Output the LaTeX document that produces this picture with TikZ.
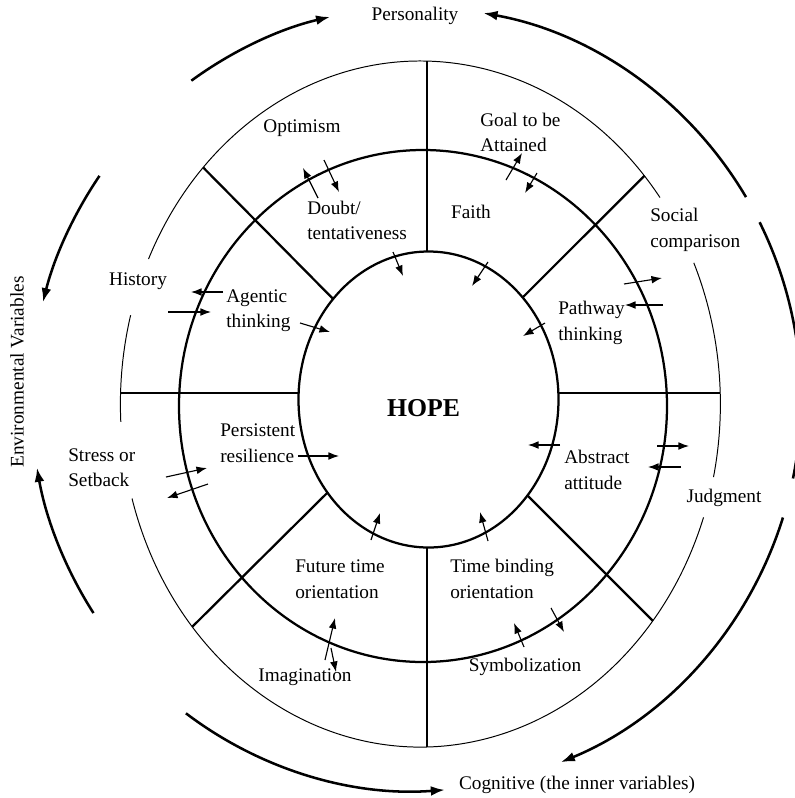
\documentclass[tikz,border=0pt]{standalone}
\usepackage{fontspec}
\setmainfont{Liberation Serif}
\usetikzlibrary{arrows.meta,calc}
\begin{document}
\begin{tikzpicture}[x=0.025cm,y=0.025cm,
  thickline/.style={line width=1.6pt},
  thinline/.style={line width=0.7pt},
  spoke/.style={line width=1.6pt},
  bigline/.style={line width=1.8pt},
  bigarrow/.style={line width=1.8pt,-{Latex[length=10pt,width=7pt]}},
  smallarrow/.style={line width=0.8pt,-{Latex[length=7.5pt,width=5.5pt]}},
  lbl/.style={font=\fontsize{13.7}{18.1}\selectfont, inner sep=0pt},
  lbll/.style={lbl, align=left, anchor=west},
]
\useasboundingbox (0,-798) rectangle (795,0);
\coordinate (Ci) at (428.5,-399.5);
\coordinate (Cm) at (423,-406);
\coordinate (Co) at (420.4,-404);
\coordinate (Ct) at (416,-399);

% rings
\draw[thickline] (Ci) ellipse [x radius=130, y radius=148];
\draw[thickline] (Cm) ellipse [x radius=244, y radius=256];
\draw[thinline] ($(Co)+(37:300 and 343)$) arc[start angle=37, end angle=155, x radius=300, y radius=343];
\draw[thinline] ($(Co)+(165:300 and 343)$) arc[start angle=165, end angle=183, x radius=300, y radius=343];
\draw[thinline] ($(Co)+(196:300 and 343)$) arc[start angle=196, end angle=340.7, x radius=300, y radius=343];
\draw[thinline] ($(Co)+(-12.3:300 and 343)$) arc[start angle=-12.3, end angle=24.3, x radius=300, y radius=343];

% spokes
\draw[spoke] (427,-61) -- (427,-252);
\draw[spoke] (427,-547) -- (427,-747);
\draw[spoke] (120.6,-393) -- (298.6,-393);
\draw[spoke] (558.4,-393) -- (720.2,-393);
\draw[spoke] ($(Co)+(136.4:300 and 343)$) -- ($(Ci)+(137.2:130 and 148)$);
\draw[spoke] ($(Co)+(41.7:300 and 343)$) -- ($(Ci)+(43.6:130 and 148)$);
\draw[spoke] ($(Co)+(220.5:300 and 343)$) -- ($(Ci)+(219:130 and 148)$);
\draw[spoke] ($(Co)+(-39.2:300 and 343)$) -- ($(Ci)+(-40.4:130 and 148)$);

% outer big arrows
\draw[bigarrow] ($(Ct)+(125.7:385 and 392)$) arc[start angle=125.7, end angle=102.9, x radius=385, y radius=392];
\draw[bigarrow] ($(Ct)+(31:385 and 392)$) arc[start angle=31, end angle=79.9, x radius=385, y radius=392];
\draw[bigline] ($(Ct)+(26.8:385 and 392)$) arc[start angle=26.8, end angle=-11.7, x radius=385, y radius=392];
\draw[bigarrow] ($(Ct)+(-17.6:385 and 392)$) arc[start angle=-17.6, end angle=-67.9, x radius=385, y radius=392];
\draw[bigarrow] ($(Ct)+(233.3:385 and 392)$) arc[start angle=233.3, end angle=274.3, x radius=385, y radius=392];
\draw[bigarrow] ($(Ct)+(213.1:385 and 392)$) arc[start angle=213.1, end angle=190.1, x radius=385, y radius=392];
\draw[bigarrow] ($(Ct)+(145.3:385 and 392)$) arc[start angle=145.3, end angle=165.7, x radius=385, y radius=392];

% labels
\node[lbl] (personality) at (415,-16) {Personality};
\node[lbl] (cognitive) at (577,-785) {Cognitive (the inner variables)};
\node[lbl, rotate=90] (env) at (17,-372) {Environmental Variables};
\node[lbl] (optimism) at (302,-128) {Optimism};
\node[lbll] (doubt) at (307,-220.5) {Doubt/\\tentativeness};
\node[lbl] (history) at (138,-281) {History};
\node[lbll] (agentic) at (226,-310.5) {Agentic\\thinking};
\node[lbll] (goal) at (480,-132.5) {Goal to be\\Attained};
\node[lbl] (faith) at (471,-212) {Faith};
\node[lbll] (social) at (650,-230) {Social\\comparison};
\node[lbll] (pathway) at (558,-323) {Pathway\\thinking};
\node[lbll] (stress) at (68,-467.5) {Stress or\\Setback};
\node[lbll] (persistent) at (220,-443) {Persistent\\resilience};
\node[lbl, font=\fontsize{18.3}{20}\selectfont\bfseries] (hope) at (423.5,-408.5) {HOPE};
\node[lbll] (future) at (295,-579) {Future time\\orientation};
\node[lbl] (imagination) at (305,-677) {Imagination};
\node[lbll] (abstract) at (564,-470) {Abstract\\attitude};
\node[lbl] (judgment) at (724,-498) {Judgment};
\node[lbll] (timebinding) at (450,-579) {Time binding\\orientation};
\node[lbl] (symbolization) at (525,-667) {Symbolization};

% small arrow end points
\coordinate (a1s) at (318,-198); \coordinate (a1e) at (303,-168);
\coordinate (a2s) at (324,-160); \coordinate (a2e) at (339,-192);
\coordinate (a3s) at (393,-252); \coordinate (a3e) at (403,-276);
\coordinate (a4s) at (223,-292); \coordinate (a4e) at (191,-292);
\coordinate (a5s) at (168,-312); \coordinate (a5e) at (211,-312);
\coordinate (a6s) at (300,-323); \coordinate (a6e) at (330,-332);
\coordinate (a7s) at (506,-180); \coordinate (a7e) at (522,-153);
\coordinate (a8s) at (537,-173); \coordinate (a8e) at (525,-193);
\coordinate (a9s) at (488,-262); \coordinate (a9e) at (472,-286);
\coordinate (a10s) at (624,-284); \coordinate (a10e) at (662,-278);
\coordinate (a11s) at (663,-305); \coordinate (a11e) at (625,-305);
\coordinate (a12s) at (545,-323); \coordinate (a12e) at (523,-336);
\coordinate (a13s) at (166,-477); \coordinate (a13e) at (207,-468);
\coordinate (a14s) at (208,-484); \coordinate (a14e) at (167,-498);
\coordinate (a15s) at (298,-456); \coordinate (a15e) at (339,-456);
\coordinate (a16s) at (371,-540); \coordinate (a16e) at (380,-513);
\coordinate (a17s) at (325,-660); \coordinate (a17e) at (335,-618);
\coordinate (a18s) at (331,-648); \coordinate (a18e) at (336,-672);
\coordinate (a19s) at (560,-445); \coordinate (a19e) at (528,-445);
\coordinate (a20s) at (657,-446); \coordinate (a20e) at (689,-446);
\coordinate (a21s) at (681,-467); \coordinate (a21e) at (648,-467);
\coordinate (a22s) at (488,-541); \coordinate (a22e) at (480,-512);
\coordinate (a23s) at (524,-647); \coordinate (a23e) at (514,-623);
\coordinate (a24s) at (551,-608); \coordinate (a24e) at (564,-632);

\foreach \i in {1,...,24}{\draw[smallarrow] (a\i s) -- (a\i e);}
\end{tikzpicture}
\end{document}
